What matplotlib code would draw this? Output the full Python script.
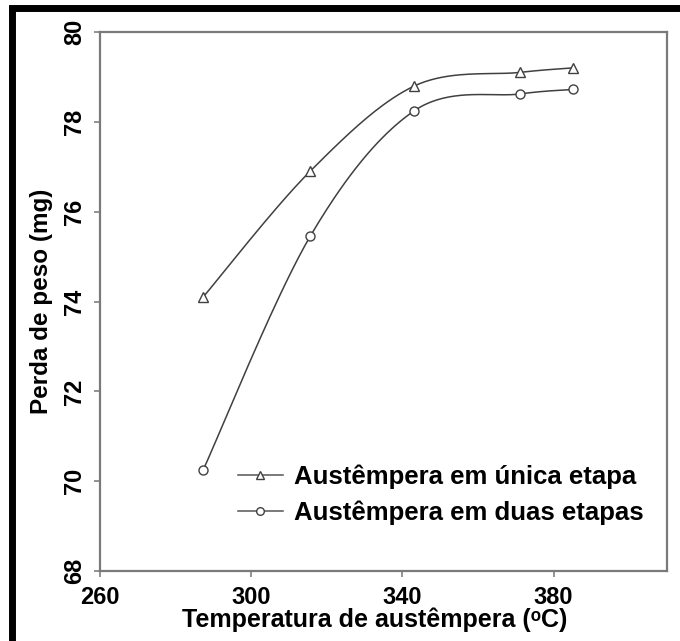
import numpy as np
import matplotlib
matplotlib.use("Agg")
import matplotlib.pyplot as plt
from matplotlib.patches import Rectangle

plt.rcParams['font.family'] = ['Liberation Sans', 'DejaVu Sans']

temperatures = [287.3, 315.6, 343.2, 371.0, 385.0]
single_stage = [74.1, 76.9, 78.8, 79.1, 79.2]
two_stage = [70.25, 75.45, 78.25, 78.62, 78.72]
series_labels = ["Austêmpera em única etapa", "Austêmpera em duas etapas"]
xticks = [260, 300, 340, 380]
yticks = [68, 70, 72, 74, 76, 78, 80]


def smooth(x, y, n=40):
    # Catmull-Rom style (Excel "smoothed line") rendering through the data points
    x = np.asarray(x, float); y = np.asarray(y, float)
    px = np.concatenate([[x[0]], x, [x[-1]]])
    py = np.concatenate([[y[0]], y, [y[-1]]])
    xs, ys = [], []
    t = np.linspace(0, 1, n)
    for i in range(1, len(px) - 2):
        p0, p1, p2, p3 = (np.array([px[j], py[j]]) for j in range(i - 1, i + 3))
        c1 = p1 + (p2 - p0) / 6
        c2 = p2 - (p3 - p1) / 6
        b = ((1 - t) ** 3)[:, None] * p1 + (3 * (1 - t) ** 2 * t)[:, None] * c1 + \
            (3 * (1 - t) * t ** 2)[:, None] * c2 + (t ** 3)[:, None] * p2
        xs.append(b[:, 0]); ys.append(b[:, 1])
    return np.concatenate(xs), np.concatenate(ys)


fig = plt.figure(figsize=(6.8, 6.41), dpi=100)
ax = fig.add_axes([100 / 680, 70 / 641, 567 / 680, 539 / 641])

line_color = '#404040'
for ys, marker, lab in [(single_stage, '^', series_labels[0]), (two_stage, 'o', series_labels[1])]:
    sx, sy = smooth(temperatures, ys)
    ax.plot(sx, sy, color=line_color, lw=1.1, zorder=2)
    ax.plot(temperatures, ys, linestyle='none', marker=marker, ms=6.5, mfc='white',
            mec=line_color, mew=1.0, zorder=3)
    ax.plot([], [], color='#555555', lw=1.1, marker=marker, ms=5.5, mfc='white',
            mec=line_color, mew=1.0, label=lab)

ax.set_xlim(260, 410)
ax.set_ylim(68, 80)
ax.set_xticks(xticks)
ax.set_yticks(yticks)
ax.set_xticklabels([str(v) for v in xticks], fontsize=17, fontweight='bold')
ax.set_yticklabels([str(v) for v in yticks], fontsize=17, fontweight='bold',
                   rotation=90, va='center')
ax.tick_params(axis='both', direction='out', length=4, width=1.2, color='#808080')
ax.tick_params(axis='x', pad=7)
ax.tick_params(axis='y', pad=6)

for s in ax.spines.values():
    s.set_color('#7a7a7a')
    s.set_linewidth(1.6)

ax.set_xlabel("Temperatura de austêmpera (\u1d52C)", fontsize=18, fontweight='bold', labelpad=0)
ax.xaxis.set_label_coords(0.485, -0.068, transform=ax.transAxes)
ax.xaxis.label.set_va('top')
ax.set_ylabel("Perda de peso (mg)", fontsize=17.5, fontweight='bold', labelpad=7)

leg = ax.legend(loc='upper left', bbox_to_anchor=(0.243, 0.198), frameon=False,
                prop={'size': 18.5, 'weight': 'bold'}, handlelength=1.75, borderpad=0,
                borderaxespad=0, handletextpad=0.45, labelspacing=0.45)

# thick black frame around figure
fig.patches.append(Rectangle((11.5 / 680, -0.1), 1.2, (641 - 8) / 641 + 0.1,
                             transform=fig.transFigure, fill=False, ec='black', lw=5))

fig.savefig('out.png', dpi=100)
